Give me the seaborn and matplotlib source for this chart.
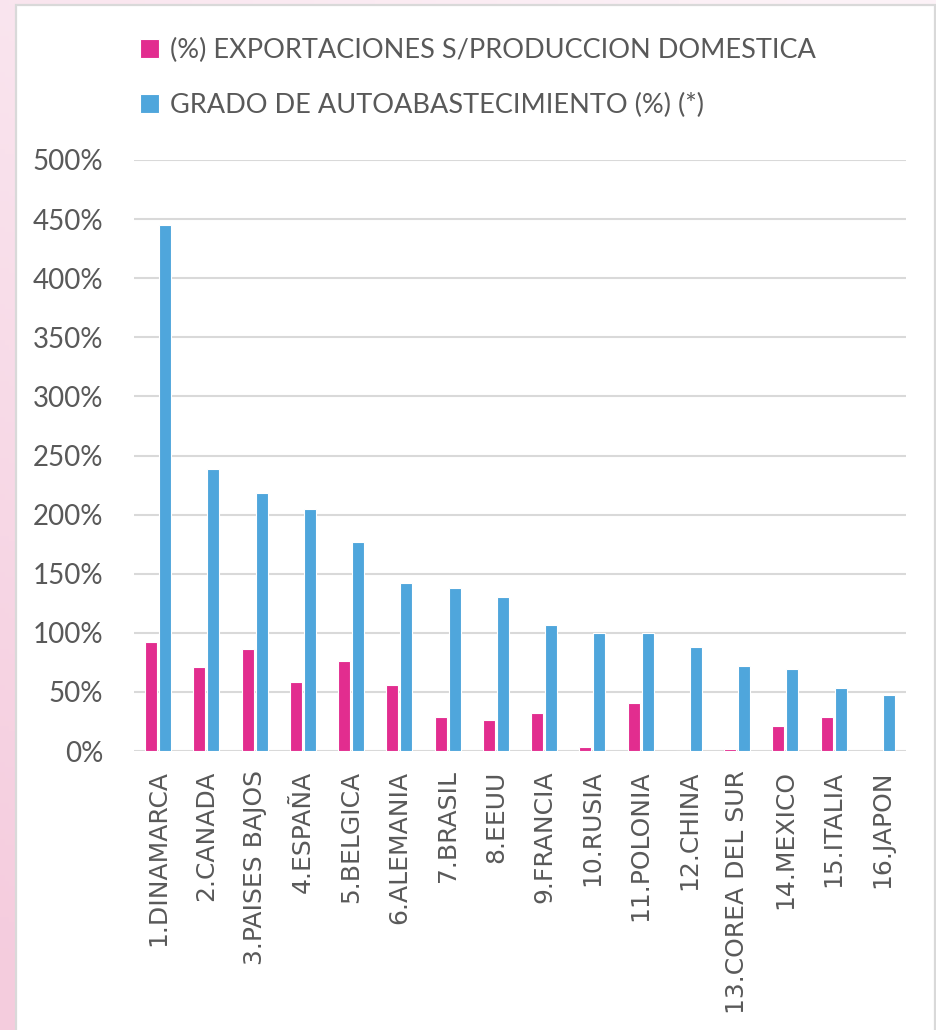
import numpy as np
import pandas as pd
import matplotlib.pyplot as plt
import seaborn as sns
from matplotlib.patches import Rectangle
from matplotlib.ticker import FuncFormatter

paises = ["1.DINAMARCA", "2.CANADA", "3.PAISES BAJOS", "4.ESPAÑA", "5.BELGICA",
          "6.ALEMANIA", "7.BRASIL", "8.EEUU", "9.FRANCIA", "10.RUSIA",
          "11.POLONIA", "12.CHINA", "13.COREA DEL SUR", "14.MEXICO", "15.ITALIA",
          "16.JAPON"]
exportaciones = [92, 71, 86, 58, 76, 56, 29, 26, 32, 3, 41, 0, 2, 21, 29, 0]
autoabastecimiento = [445, 239, 218, 205, 177, 142, 138, 130, 107, 100, 100, 88, 72, 69, 53, 47]
series = ["(%) EXPORTACIONES S/PRODUCCION DOMESTICA", "GRADO DE AUTOABASTECIMIENTO (%) (*)"]
colores = ["#E22D8F", "#4FA6DC"]

df = pd.DataFrame({
    "pais": paises * 2,
    "serie": [series[0]] * len(paises) + [series[1]] * len(paises),
    "valor": exportaciones + autoabastecimiento,
})

sns.set_style("white")
plt.rcParams["font.family"] = ["Lato", "DejaVu Sans"]
gris = "#595959"

fig = plt.figure(figsize=(9.37, 10.3), dpi=100)

# fondo rosado y tarjeta blanca
bg = fig.add_axes([0, 0, 1, 1], zorder=-10)
yy, xx = np.mgrid[0:1:200j, 0:1:200j]
mezcla = np.clip(0.35 + 0.7 * yy - 0.4 * xx, 0, 1)[..., None]
rosa = np.array([0.96, 0.80, 0.87])
blanco = np.array([0.99, 0.95, 0.97])
bg.imshow(blanco * (1 - mezcla) + rosa * mezcla, aspect="auto", extent=[0, 1, 0, 1], origin="upper")
bg.axis("off")
bg.add_patch(Rectangle((16 / 937, -0.02), (935 - 16) / 937, 1 + 0.02 - 5 / 1030,
                       transform=bg.transAxes, facecolor="white", edgecolor="#D9D9D9", lw=1.6))

ax = fig.add_axes([134 / 937, 1 - 751 / 1030, (906 - 134) / 937, (751 - 160) / 1030])
ax.set_facecolor("none")
sns.barplot(data=df, x="pais", y="valor", hue="serie", palette=colores, ax=ax,
            width=0.58, gap=0.15, edgecolor="white", linewidth=0.8, saturation=1)

ax.set_ylim(0, 500)
ax.set_yticks(range(0, 501, 50))
ax.yaxis.set_major_formatter(FuncFormatter(lambda v, p: f"{v:.0f}%"))
ax.grid(axis="y", color="#D9D9D9", lw=1.5)
ax.set_axisbelow(True)
sns.despine(ax=ax, left=True, bottom=True, top=True, right=True)
ax.set_xlabel("")
ax.set_ylabel("")
ax.tick_params(axis="y", length=0, pad=22, labelsize=20, labelcolor=gris)
ax.tick_params(axis="x", length=0, pad=14, labelcolor=gris)
for lbl in ax.get_xticklabels():
    lbl.set_rotation(90)
    lbl.set_fontfamily("DejaVu Sans")
    lbl.set_fontsize(18)

handles, labels = ax.get_legend_handles_labels()
ax.legend_.remove()
fig.legend(handles, labels, loc="upper left", bbox_to_anchor=(140 / 937, 1 - 38 / 1030),
           frameon=False, fontsize=19.5, labelcolor=gris, handlelength=0.72, handleheight=0.72,
           handletextpad=0.4, labelspacing=1.1, borderpad=0, borderaxespad=0)

fig.savefig("out.png", dpi=100)
